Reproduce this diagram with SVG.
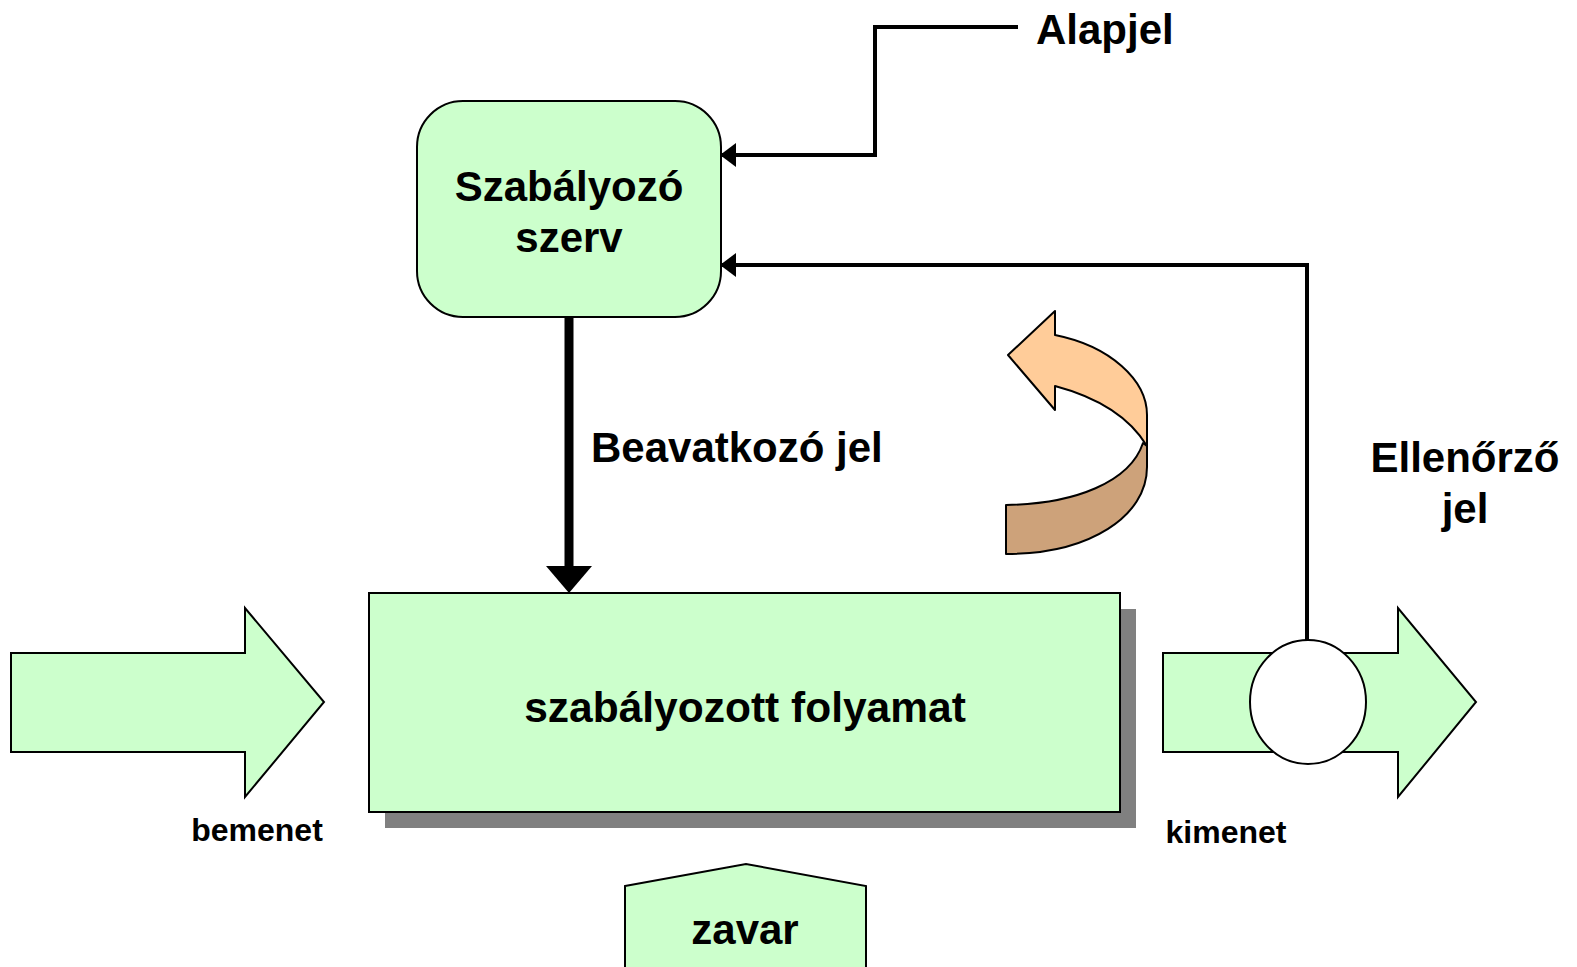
<svg xmlns="http://www.w3.org/2000/svg" width="1577" height="967" viewBox="0 0 1577 967">
  <style>
    .lbl { font-family: "Liberation Sans", Arial, sans-serif; font-weight: bold; fill: #000; text-anchor: middle; }
    .big { font-size: 42px; }
    .small { font-size: 32px; }
    .start { text-anchor: start; }
    .green { fill: #CCFFCC; stroke: #000; stroke-width: 2; }
    .wire { fill: none; stroke: #000; stroke-width: 4; }
  </style>
  <defs>
    <marker id="head" markerUnits="userSpaceOnUse" markerWidth="16" markerHeight="24" refX="15" refY="12" orient="auto">
      <path d="M0,0 L16,12 L0,24 Z" fill="#000"/>
    </marker>
  </defs>

  <rect width="1577" height="967" fill="#fff"/>

  <!-- controller -->
  <g id="szabalyozo">
    <rect class="green" x="417" y="101" width="304" height="216" rx="46" ry="46"/>
    <text class="lbl big" x="569" y="201">Szabályozó</text>
    <text class="lbl big" x="569" y="252">szerv</text>
  </g>

  <!-- controlled process with drop shadow -->
  <g id="folyamat">
    <rect x="385" y="609" width="751" height="219" fill="#808080"/>
    <rect class="green" x="369" y="593" width="751" height="219"/>
    <text class="lbl big" x="745" y="722" style="font-size:42.5px">szabályozott folyamat</text>
  </g>

  <!-- input arrow -->
  <g id="bemenet">
    <polygon class="green" points="11,653 245,653 245,608 324,702 245,797 245,752 11,752"/>
    <text class="lbl small" x="257" y="841">bemenet</text>
  </g>

  <!-- output arrow with sensing point -->
  <g id="kimenet">
    <polygon class="green" points="1163,653 1398,653 1398,608 1476,702 1398,797 1398,752 1163,752"/>
    <ellipse cx="1308" cy="702" rx="58" ry="62" fill="#fff" stroke="#000" stroke-width="2"/>
    <text class="lbl small" x="1226" y="843">kimenet</text>
  </g>

  <!-- disturbance -->
  <g id="zavar">
    <polygon class="green" points="625,886 746,864 866,886 866,975 625,975"/>
    <text class="lbl big" x="745" y="944">zavar</text>
  </g>

  <!-- loop direction symbol -->
  <g id="kor">
    <path d="M1143,443 C1130,482 1075,504 1006,505 L1006,554 C1090,554 1147,516 1147,467 L1147,446 Z" fill="#CDA27A" stroke="#000" stroke-width="2" stroke-linejoin="round"/>
    <path d="M1008,355 L1055,311 L1055,335 C1110,346 1147,380 1147,415 L1147,446 C1130,418 1100,398 1055,386 L1055,410 Z" fill="#FFCC99" stroke="#000" stroke-width="2" stroke-linejoin="round"/>
  </g>

  <!-- signal labels -->
  <g id="alapjel">
    <text class="lbl big start" x="1036" y="44">Alapjel</text>
  </g>
  <g id="beavatkozo">
    <text class="lbl big start" x="591" y="462">Beavatkozó jel</text>
  </g>
  <g id="ellenorzo">
    <text class="lbl big" x="1465" y="472">Ellenőrző</text>
    <text class="lbl big" x="1465" y="523">jel</text>
  </g>

  <!-- connectors -->
  <g id="connectors">
    <polyline class="wire" points="1018,27 875,27 875,155 721,155" marker-end="url(#head)"/>
    <polyline class="wire" points="1307,640 1307,265 721,265" marker-end="url(#head)"/>
    <line x1="569" y1="317" x2="569" y2="570" stroke="#000" stroke-width="9"/>
    <polygon points="546,566 592,566 569,593" fill="#000"/>
  </g>
</svg>
